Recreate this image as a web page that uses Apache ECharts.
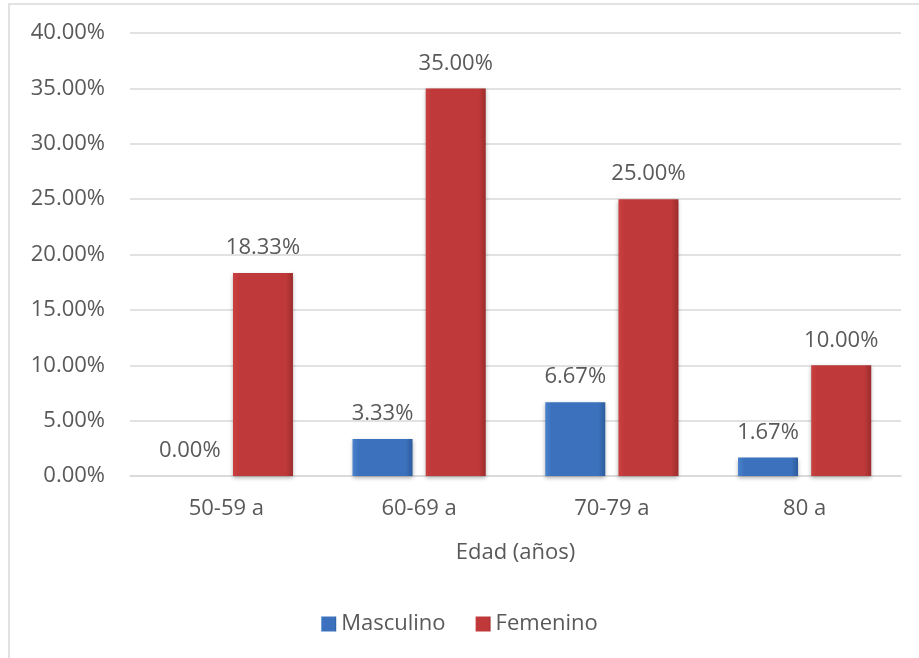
<!DOCTYPE html>
<html>
<head>
<meta charset="utf-8">
<script src="https://cdn.jsdelivr.net/npm/echarts@6/dist/echarts.min.js"></script>
<style>
  html, body { margin: 0; padding: 0; background: #fff; }
  #chart { width: 919px; height: 658px; }
</style>
</head>
<body>
<div id="chart"></div>
<script>
var categories = ['50-59 a', '60-69 a', '70-79 a', '80 a'];
var masculino = [0.00, 3.33, 6.67, 1.67];
var femenino = [18.33, 35.00, 25.00, 10.00];

function barColor(edgeL, mid, edgeR) {
    return new echarts.graphic.LinearGradient(0, 0, 1, 0, [
        { offset: 0, color: edgeL },
        { offset: 0.1, color: mid },
        { offset: 0.88, color: mid },
        { offset: 1, color: edgeR }
    ]);
}

var labelStyle = {
    show: true,
    position: 'top',
    distance: 14,
    color: '#595959',
    fontSize: 22,
    fontFamily: 'Open Sans',
    formatter: function (d) {
        return d.value.toFixed(2) + '%';
    }
};

var option = {
    animation: false,
    textStyle: { fontFamily: 'Open Sans' },
    graphic: [{
        type: 'rect',
        shape: { x: 9, y: 4, width: 930, height: 680 },
        style: { fill: 'none', stroke: '#d9d9d9', lineWidth: 1.5 },
        silent: true
    }],
    grid: {
        left: 130,
        right: 18,
        top: 33,
        bottom: 182
    },
    legend: {
        top: 608,
        left: 'center',
        itemWidth: 15,
        itemHeight: 15,
        itemGap: 30,
        icon: 'rect',
        textStyle: { color: '#595959', fontSize: 22, fontFamily: 'Open Sans' },
        data: ['Masculino', 'Femenino']
    },
    xAxis: {
        type: 'category',
        data: categories,
        name: 'Edad (años)',
        nameLocation: 'middle',
        nameGap: 66,
        nameTextStyle: { color: '#595959', fontSize: 22 },
        axisTick: { show: false },
        axisLine: { lineStyle: { color: '#d9d9d9', width: 1.5 } },
        axisLabel: { color: '#595959', fontSize: 22, margin: 22 }
    },
    yAxis: {
        type: 'value',
        min: 0,
        max: 40,
        interval: 5,
        axisLabel: {
            color: '#595959',
            fontSize: 22,
            margin: 25,
            formatter: function (v) { return v.toFixed(2) + '%'; }
        },
        splitLine: { lineStyle: { color: '#d9d9d9', width: 1.5 } },
        axisLine: { show: false },
        axisTick: { show: false }
    },
    series: [{
        name: 'Masculino',
        type: 'bar',
        data: masculino,
        barWidth: 60,
        barGap: '22%',
        itemStyle: {
            color: barColor('#4a82cc', '#3c72bd', '#2d5c9e'),
            shadowBlur: 4,
            shadowOffsetY: 2,
            shadowColor: 'rgba(0,0,0,0.3)'
        },
        label: labelStyle
    }, {
        name: 'Femenino',
        type: 'bar',
        data: femenino,
        barWidth: 60,
        itemStyle: {
            color: barColor('#c9403f', '#c0393a', '#9c2c2c'),
            shadowBlur: 4,
            shadowOffsetY: 2,
            shadowColor: 'rgba(0,0,0,0.3)'
        },
        label: labelStyle
    }]
};

var chartDom = document.getElementById('chart');
var myChart = echarts.init(chartDom);
myChart.setOption(option, true);
</script>
</body>
</html>
